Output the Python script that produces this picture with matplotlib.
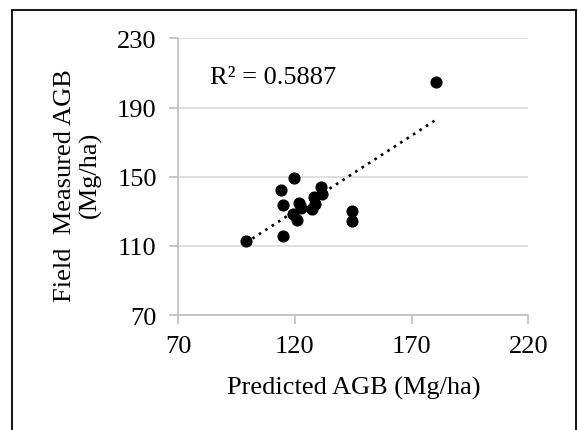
import matplotlib
matplotlib.use('Agg')
import matplotlib.pyplot as plt
import numpy as np
from matplotlib.patches import Rectangle

# Predicted vs field measured AGB (Mg/ha)
predicted = [99.0, 114.7, 114.0, 115.0, 119.7, 119.3, 121.0, 121.9, 122.5,
             127.2, 128.3, 128.6, 131.2, 131.7, 144.3, 144.6, 180.4]
measured = [113.0, 115.5, 142.4, 133.8, 149.2, 128.4, 124.9, 134.6, 132.0,
            131.3, 138.0, 134.2, 143.8, 140.3, 129.9, 124.2, 205.1]
r2_label = 'R² = 0.5887'

x_ticks = [70, 120, 170, 220]
y_ticks = [70, 110, 150, 190, 230]

plt.rcParams['font.family'] = ['Liberation Serif', 'DejaVu Serif']
fs = 19

fig = plt.figure(figsize=(5.78, 4.31), dpi=100)
ax = fig.add_axes([0.3085, 0.2668, 0.6055, 0.6416])

# outer frame (bottom edge cut off in the original)
fig.patches.append(Rectangle((12 / 578, -0.05), 564 / 578, 1.05 - 11 / 431,
                             transform=fig.transFigure, fill=False,
                             edgecolor='black', linewidth=1.3))

ax.scatter(predicted, measured, s=60, color='black', zorder=3)

# linear trendline
slope, intercept = np.polyfit(predicted, measured, 1)
xs = np.array([min(predicted), max(predicted)])
ax.plot(xs, slope * xs + intercept, color='black', linewidth=1.9,
        linestyle=(0, (1, 1.9)), zorder=2)

ax.text(83.5, 208, r2_label, fontsize=fs, va='center', ha='left')

ax.set_xlim(70, 220)
ax.set_ylim(70, 230)
ax.set_xticks(x_ticks)
ax.set_yticks(y_ticks)
ax.grid(axis='y', color='#d9d9d9', linewidth=1.2)
ax.set_axisbelow(True)
for side in ['top', 'right']:
    ax.spines[side].set_visible(False)
for side in ['left', 'bottom']:
    ax.spines[side].set_color('#bfbfbf')
    ax.spines[side].set_linewidth(1.2)
ax.tick_params(colors='#bfbfbf', labelcolor='black', labelsize=fs,
               length=6.5, width=1.2)
ax.tick_params(axis='x', pad=8)
ax.tick_params(axis='y', pad=9)

ax.set_xlabel('Predicted AGB (Mg/ha)', fontsize=fs)
ax.xaxis.set_label_coords(0.5, -0.22)

# y label wrapped over two lines, as in the source chart
fig.text(71 / 578, 1 - 186 / 431, 'Field  Measured AGB', fontsize=fs,
         rotation=90, rotation_mode='anchor', ha='center', va='baseline')
fig.text(96 / 578, 1 - 175 / 431, '(Mg/ha)', fontsize=fs,
         rotation=90, rotation_mode='anchor', ha='center', va='baseline')

fig.savefig('out.png', dpi=100)
